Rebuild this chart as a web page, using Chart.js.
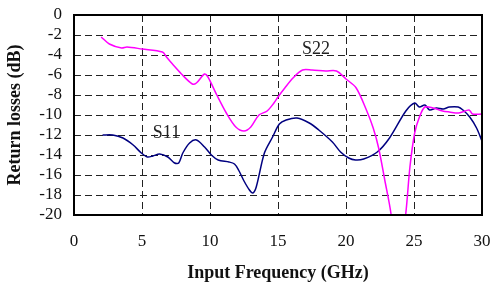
<!DOCTYPE html>
<html>
<head>
<meta charset="utf-8">
<script src="https://cdn.jsdelivr.net/npm/chart.js@4"></script>
<style>
  html, body { margin: 0; padding: 0; background: #fff; }
  #wrap { width: 491px; height: 286px; }
</style>
</head>
<body>
<div id="wrap"><canvas id="chart" width="491" height="286"></canvas></div>
<script>
// ---------------- DATA ----------------
const s11Freq = [2.1, 2.85, 3.6, 4.35, 4.95, 5.4, 5.8, 6.3, 6.9, 7.4, 7.7, 8.0, 8.5, 9.0, 9.6, 10.1, 10.6, 11.4, 11.8, 12.1, 12.5, 12.9, 13.15, 13.4, 14.0, 14.6, 15.1, 15.6, 16.4, 17.3, 18.0, 19.0, 19.6, 20.2, 20.7, 21.3, 22.3, 23.2, 24.4, 25.05, 25.4, 25.8, 26.15, 26.65, 27.15, 27.6, 28.25, 28.6, 29.1, 29.6, 30.0];
const s11Loss = [-12.0, -12.0, -12.3, -13.0, -13.8, -14.2, -14.1, -13.9, -14.2, -14.8, -14.8, -13.8, -12.8, -12.5, -13.2, -14.0, -14.5, -14.7, -14.9, -15.5, -16.6, -17.5, -17.8, -17.2, -13.8, -12.2, -10.9, -10.5, -10.3, -10.8, -11.5, -12.7, -13.7, -14.3, -14.5, -14.4, -13.7, -12.3, -9.6, -8.8, -9.2, -9.0, -9.5, -9.3, -9.4, -9.2, -9.2, -9.5, -10.2, -11.3, -12.6];

const s22Freq = [2.0, 2.6, 3.5, 3.9, 5.0, 6.5, 6.8, 7.3, 7.9, 8.7, 9.0, 9.6, 9.85, 10.5, 11.2, 11.9, 12.5, 13.0, 13.6, 14.2, 14.7, 15.0, 15.5, 16.1, 16.8, 17.5, 18.5, 19.3, 20.0, 20.75, 21.5, 22.0, 22.4, 22.85, 23.3, 23.8, 24.4, 24.7, 25.05, 25.4, 25.8, 26.4, 27.1, 27.6, 28.3, 29.05, 29.3, 30.0];
const s22Loss = [-2.2, -2.9, -3.3, -3.2, -3.4, -3.7, -4.2, -5.0, -5.9, -6.9, -6.8, -5.9, -6.2, -8.0, -9.8, -11.2, -11.6, -11.2, -10.0, -9.6, -8.8, -8.2, -7.3, -6.3, -5.5, -5.5, -5.6, -5.6, -6.4, -7.3, -9.5, -11.3, -13.3, -16.5, -19.8, -26.0, -19.8, -15.2, -11.8, -10.2, -9.2, -9.3, -9.6, -9.7, -9.8, -9.5, -9.9, -9.9];

const xTicks = [0, 5, 10, 15, 20, 25, 30];
const yTicks = [0, -2, -4, -6, -8, -10, -12, -14, -16, -18, -20];

// etiquetas de curva (en coordenadas de datos)
const curveLabels = [
  { text: 'S11', x: 6.8, y: -11.8 },
  { text: 'S22', x: 17.8, y: -3.4 }
];

const FONT = 'Liberation Serif, "Times New Roman", serif';

const toPoints = (xs, ys) => xs.map((x, i) => ({ x: x, y: ys[i] }));

// ---------------- PLUGINS ----------------
// rejilla discontinua, sin las lineas del borde
const dashedGrid = {
  id: 'dashedGrid',
  beforeDatasetsDraw(chart) {
    const { ctx, chartArea: a, scales } = chart;
    ctx.save();
    ctx.strokeStyle = '#222';
    ctx.lineWidth = 1;
    ctx.setLineDash([7, 4]);
    ctx.beginPath();
    xTicks.slice(1, -1).forEach(v => {
      const px = Math.round(scales.x.getPixelForValue(v)) + 0.5;
      ctx.moveTo(px, a.top);
      ctx.lineTo(px, a.bottom);
    });
    yTicks.slice(1, -1).forEach(v => {
      const py = Math.round(scales.y.getPixelForValue(v)) + 0.5;
      ctx.moveTo(a.left, py);
      ctx.lineTo(a.right, py);
    });
    ctx.stroke();
    ctx.restore();
  }
};

const frameAndLabels = {
  id: 'frameAndLabels',
  afterDatasetsDraw(chart) {
    const { ctx, chartArea: a, scales } = chart;
    ctx.save();
    ctx.font = '18px ' + FONT;
    ctx.fillStyle = '#222';
    ctx.textAlign = 'center';
    ctx.textBaseline = 'middle';
    curveLabels.forEach(l => {
      ctx.fillText(l.text, scales.x.getPixelForValue(l.x), scales.y.getPixelForValue(l.y));
    });
    ctx.strokeStyle = '#000';
    ctx.lineWidth = 2;
    ctx.strokeRect(a.left, a.top, a.right - a.left, a.bottom - a.top);
    ctx.restore();
  }
};

// ---------------- CHART ----------------
new Chart(document.getElementById('chart'), {
  type: 'line',
  data: {
    datasets: [
      {
        label: 'S22',
        data: toPoints(s22Freq, s22Loss),
        borderColor: '#ff00ff',
        borderWidth: 1.5,
        pointRadius: 0,
        tension: 0.3,
        fill: false
      },
      {
        label: 'S11',
        data: toPoints(s11Freq, s11Loss),
        borderColor: '#000080',
        borderWidth: 1.5,
        pointRadius: 0,
        tension: 0.3,
        fill: false
      }
    ]
  },
  options: {
    responsive: false,
    animation: false,
    layout: { padding: { left: 0, right: 9, top: 15, bottom: 0 } },
    plugins: {
      legend: { display: false },
      tooltip: { enabled: false }
    },
    scales: {
      x: {
        type: 'linear',
        min: 0,
        max: 30,
        afterBuildTicks: s => { s.ticks = xTicks.map(v => ({ value: v })); },
        afterFit: s => { s.height = 71; s.paddingLeft = 0; s.paddingRight = 0; },
        ticks: { color: '#111', font: { family: FONT, size: 17 }, padding: 16, maxRotation: 0, autoSkip: false },
        grid: { display: false, drawTicks: false },
        border: { display: false },
        title: {
          display: true,
          text: 'Input Frequency (GHz)',
          color: '#111',
          font: { family: FONT, size: 18, weight: 'bold' },
          padding: { top: 0, bottom: 2 }
        }
      },
      y: {
        min: -20,
        max: 0,
        afterBuildTicks: s => { s.ticks = yTicks.map(v => ({ value: v })); },
        afterFit: s => { s.width = 74; s.paddingTop = 0; s.paddingBottom = 0; },
        ticks: { color: '#111', font: { family: FONT, size: 17 }, padding: 12, autoSkip: false },
        grid: { display: false, drawTicks: false },
        border: { display: false },
        title: {
          display: true,
          text: 'Return losses (dB)',
          color: '#111',
          font: { family: FONT, size: 18, weight: 'bold' },
          padding: { top: 5, bottom: 0 }
        }
      }
    }
  },
  plugins: [dashedGrid, frameAndLabels]
});
</script>
</body>
</html>
